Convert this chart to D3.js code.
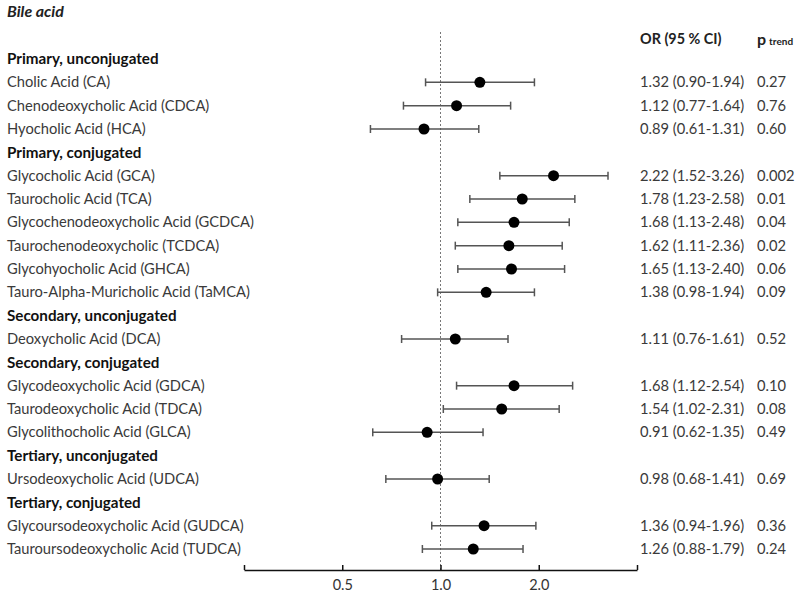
<!DOCTYPE html>
<html><head><meta charset="utf-8">
<script src="https://cdn.jsdelivr.net/npm/d3@7"></script>
<style>body{margin:0;background:#fff}</style>
</head><body>
<script>
const labels = ["Primary, unconjugated","Cholic Acid (CA)","Chenodeoxycholic Acid (CDCA)","Hyocholic Acid (HCA)",
"Primary, conjugated","Glycocholic Acid (GCA)","Taurocholic Acid (TCA)","Glycochenodeoxycholic Acid (GCDCA)",
"Taurochenodeoxycholic (TCDCA)","Glycohyocholic Acid (GHCA)","Tauro-Alpha-Muricholic Acid (TaMCA)",
"Secondary, unconjugated","Deoxycholic Acid (DCA)","Secondary, conjugated","Glycodeoxycholic Acid (GDCA)",
"Taurodeoxycholic Acid (TDCA)","Glycolithocholic Acid (GLCA)","Tertiary, unconjugated","Ursodeoxycholic Acid (UDCA)",
"Tertiary, conjugated","Glycoursodeoxycholic Acid (GUDCA)","Tauroursodeoxycholic Acid (TUDCA)"];
const orValues = [null,1.32,1.12,0.89,null,2.22,1.78,1.68,1.62,1.65,1.38,null,1.11,null,1.68,1.54,0.91,null,0.98,null,1.36,1.26];
const ciLower = [null,0.90,0.77,0.61,null,1.52,1.23,1.13,1.11,1.13,0.98,null,0.76,null,1.12,1.02,0.62,null,0.68,null,0.94,0.88];
const ciUpper = [null,1.94,1.64,1.31,null,3.26,2.58,2.48,2.36,2.40,1.94,null,1.61,null,2.54,2.31,1.35,null,1.41,null,1.96,1.79];
const pTrend = [null,"0.27","0.76","0.60",null,"0.002","0.01","0.04","0.02","0.06","0.09",null,"0.52",null,"0.10","0.08","0.49",null,"0.69",null,"0.36","0.24"];
const xTicks = [0.25,0.5,1,2,4];
const xTickLabels = ["","0.5","1.0","2.0",""];

const W=800,H=600;
const font = "Lato, 'Open Sans', sans-serif";
const svg = d3.select("body").append("svg").attr("width",W).attr("height",H).style("font-family",font);

const x = d3.scaleLog().base(2).domain([0.25,4]).range([244,637]);
const y = d3.scalePoint().domain(d3.range(labels.length)).range([59,549]);

svg.append("text").attr("x",7).attr("y",17).attr("font-size",16).attr("font-weight","bold")
  .attr("font-style","italic").attr("fill","#222").text("Bile acid");
svg.append("text").attr("x",640).attr("y",44).attr("font-size",14.4).attr("font-weight","bold").attr("fill","#222").text("OR (95 % CI)");
const pt = svg.append("text").attr("x",757).attr("y",45).attr("fill","#222").attr("font-weight","bold");
pt.append("tspan").attr("font-size",16).text("p");
pt.append("tspan").attr("font-size",10).attr("dx",3).text("trend");

// reference line
svg.append("line").attr("x1",x(1)).attr("x2",x(1)).attr("y1",32).attr("y2",570)
  .attr("stroke","#777").attr("stroke-width",1).attr("stroke-dasharray","2,2");

// axis
const axis = d3.axisBottom(x).tickValues(xTicks).tickFormat((d,i)=>xTickLabels[i])
  .tickSizeInner(-5).tickSizeOuter(0).tickPadding(10);
const ga = svg.append("g").attr("transform","translate(0,570)").call(axis);
ga.select(".domain").attr("stroke","#111").attr("stroke-width",1.5);
ga.selectAll(".tick line").attr("stroke","#111").attr("stroke-width",1.5);
ga.selectAll(".tick text").attr("font-size",14.5).attr("font-family",font).attr("fill","#333");

const idx = d3.range(labels.length);
svg.append("g").selectAll("text").data(idx).join("text")
  .attr("x",7).attr("y",i=>y(i)).attr("dy","0.35em")
  .attr("font-size",i=>orValues[i]===null?15.2:14.7)
  .attr("font-weight",i=>orValues[i]===null?"bold":"normal")
  .attr("fill",i=>orValues[i]===null?"#111":"#3a3a3a")
  .text(i=>labels[i]);

const dataIdx = idx.filter(i=>orValues[i]!==null);
const g = svg.append("g");
g.selectAll("line.ci").data(dataIdx).join("line").attr("class","ci")
  .attr("x1",i=>x(ciLower[i])).attr("x2",i=>x(ciUpper[i])).attr("y1",i=>y(i)).attr("y2",i=>y(i))
  .attr("stroke","#555").attr("stroke-width",1.5);
["lo","hi"].forEach(k=>{
  g.selectAll("line.cap"+k).data(dataIdx).join("line").attr("class","cap"+k)
    .attr("x1",i=>x(k==="lo"?ciLower[i]:ciUpper[i])).attr("x2",i=>x(k==="lo"?ciLower[i]:ciUpper[i]))
    .attr("y1",i=>y(i)-4).attr("y2",i=>y(i)+4)
    .attr("stroke","#555").attr("stroke-width",1.5);
});
g.selectAll("circle").data(dataIdx).join("circle")
  .attr("cx",i=>x(orValues[i])).attr("cy",i=>y(i)).attr("r",5.5).attr("fill","#000");

svg.append("g").selectAll("text").data(dataIdx).join("text")
  .attr("x",640).attr("y",i=>y(i)).attr("dy","0.35em").attr("font-size",14.7).attr("fill","#3a3a3a")
  .text(i=>`${orValues[i].toFixed(2)} (${ciLower[i].toFixed(2)}-${ciUpper[i].toFixed(2)})`);
svg.append("g").selectAll("text").data(dataIdx).join("text")
  .attr("x",757).attr("y",i=>y(i)).attr("dy","0.35em").attr("font-size",14.7).attr("fill","#3a3a3a")
  .text(i=>pTrend[i]);
</script>
</body></html>
